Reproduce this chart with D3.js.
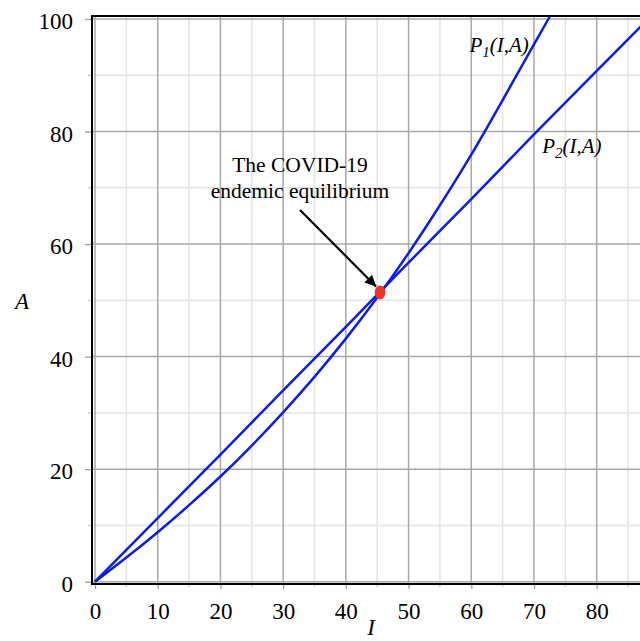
<!DOCTYPE html>
<html>
<head>
<meta charset="utf-8">
<script src="https://cdn.jsdelivr.net/npm/d3@7"></script>
<style>
  html, body { margin: 0; padding: 0; background: #fff; }
  svg { display: block; }
  text { font-family: "Liberation Serif", "Times New Roman", serif; fill: #000; }
</style>
</head>
<body>
<svg id="chart" width="640" height="641"></svg>
<script>
// ---- Data ----
const p1I = [0, 5, 10, 15, 20, 25, 30, 35, 40, 45, 50, 55, 60, 65, 70, 72.5];
const p1A = [0, 4.3, 8.8, 13.6, 18.7, 24.2, 30.1, 36.4, 43.2, 50.5, 58.4, 66.9, 75.9, 85.6, 95.5, 100.4];
const p2I = [0, 10, 20, 30, 40, 50, 60, 70, 80, 90];
const p2A = [0, 11.3, 22.6, 34.0, 45.3, 56.7, 68.0, 79.5, 90.8, 102.0];
const equilibrium = { I: 45.45, A: 51.4 };
const xTicks = [0, 10, 20, 30, 40, 50, 60, 70, 80];
const yTicks = [0, 20, 40, 60, 80, 100];
const xMinor = [5, 15, 25, 35, 45, 55, 65, 75, 85];
const yMinor = [10, 30, 50, 70, 90];
const curveLabels = [
  { main: "P", sub: "1", rest: "(I,A)", I: 59.7, A: 94.2 },
  { main: "P", sub: "2", rest: "(I,A)", I: 71.3, A: 76.1 }
];
const annotationLines = ["The COVID-19", "endemic equilibrium"];

// ---- Scales ----
const svg = d3.select("#chart");
const x = d3.scaleLinear().domain([0, 80]).range([95, 596.7]);
const y = d3.scaleLinear().domain([0, 100]).range([581.7, 19]);
const axisX = x.invert(92);   // left axis position in data units
const axisY = y.invert(584);  // bottom axis position
const topY = y.invert(16);

svg.append("defs").append("clipPath").attr("id", "clip")
  .append("rect").attr("x", x(axisX)).attr("y", y(topY))
  .attr("width", 640 - x(axisX)).attr("height", y(axisY) - y(topY));

// ---- Grid ----
const grid = svg.append("g").attr("clip-path", "url(#clip)");
grid.selectAll(".xminor").data(xMinor).join("line")
  .attr("x1", d => x(d)).attr("x2", d => x(d))
  .attr("y1", y(axisY)).attr("y2", y(topY))
  .attr("stroke", "#e4e4e4").attr("stroke-width", 1.5);
grid.selectAll(".yminor").data(yMinor).join("line")
  .attr("y1", d => y(d)).attr("y2", d => y(d))
  .attr("x1", x(axisX)).attr("x2", 640)
  .attr("stroke", "#e4e4e4").attr("stroke-width", 1.5);
grid.selectAll(".xmajor").data(xTicks).join("line")
  .attr("x1", d => x(d)).attr("x2", d => x(d))
  .attr("y1", y(axisY)).attr("y2", y(topY))
  .attr("stroke", "#a8a8a8").attr("stroke-width", 1.5);
grid.selectAll(".ymajor").data(yTicks).join("line")
  .attr("y1", d => y(d)).attr("y2", d => y(d))
  .attr("x1", x(axisX)).attr("x2", 640)
  .attr("stroke", "#a8a8a8").attr("stroke-width", 1.5);

// ---- Axes (D3 axes, positioned at the frame) ----
const xAxis = svg.append("g").attr("transform", `translate(0,${y(axisY)})`)
  .call(d3.axisBottom(x).tickValues(xTicks).tickSize(5).tickPadding(14).tickFormat(d3.format("d")));
const yAxis = svg.append("g").attr("transform", `translate(${x(axisX)},0)`)
  .call(d3.axisLeft(y).tickValues(yTicks).tickSize(7).tickPadding(12).tickFormat(d3.format("d")));
[xAxis, yAxis].forEach(g => {
  g.select(".domain").remove();
  g.selectAll(".tick line").attr("stroke", "#a0a0a0").attr("stroke-width", 1.3);
  g.selectAll(".tick text").attr("font-size", 23)
    .attr("font-family", "Liberation Serif, Times New Roman, serif").attr("fill", "#000");
});
yAxis.selectAll(".tick text").attr("dy", "0.42em");
// minor ticks
svg.append("g").selectAll("line").data(xMinor.filter(d => x(d) < 640)).join("line")
  .attr("x1", d => x(d)).attr("x2", d => x(d))
  .attr("y1", y(axisY)).attr("y2", y(axisY) + 3)
  .attr("stroke", "#c8c8c8").attr("stroke-width", 1.3);
svg.append("g").selectAll("line").data(yMinor).join("line")
  .attr("y1", d => y(d)).attr("y2", d => y(d))
  .attr("x1", x(axisX) - 4).attr("x2", x(axisX))
  .attr("stroke", "#c8c8c8").attr("stroke-width", 1.3);

// frame lines
svg.append("line").attr("x1", x(axisX)).attr("x2", 640).attr("y1", y(axisY)).attr("y2", y(axisY))
  .attr("stroke", "#000").attr("stroke-width", 2);
svg.append("line").attr("x1", x(axisX)).attr("x2", 640).attr("y1", y(topY)).attr("y2", y(topY))
  .attr("stroke", "#000").attr("stroke-width", 2);
svg.append("line").attr("x1", x(axisX)).attr("x2", x(axisX)).attr("y1", y(topY) - 1).attr("y2", y(axisY) + 1)
  .attr("stroke", "#000").attr("stroke-width", 2);

// ---- Curves ----
const line = d3.line().x(d => x(d[0])).y(d => y(d[1])).curve(d3.curveNatural);
const curves = svg.append("g").attr("clip-path", "url(#clip)");
curves.append("path").datum(p1I.map((v, i) => [v, p1A[i]]))
  .attr("d", line).attr("fill", "none").attr("stroke", "#0a1cf0").attr("stroke-width", 2.5);
curves.append("path").datum(p2I.map((v, i) => [v, p2A[i]]))
  .attr("d", line).attr("fill", "none").attr("stroke", "#0a1cf0").attr("stroke-width", 2.5);

// ---- Curve labels ----
curveLabels.forEach(l => {
  const t = svg.append("text").attr("x", x(l.I)).attr("y", y(l.A))
    .attr("font-size", 21).attr("font-style", "italic");
  t.append("tspan").text(l.main);
  t.append("tspan").attr("dy", 5).attr("font-size", 15).text(l.sub);
  t.append("tspan").attr("dy", -5).text(l.rest);
});

// ---- Annotation ----
svg.append("defs").append("marker").attr("id", "arrow")
  .attr("viewBox", "0 0 10 10").attr("refX", 10).attr("refY", 5)
  .attr("markerWidth", 5).attr("markerHeight", 5).attr("orient", "auto")
  .append("path").attr("d", "M0,0 L10,5 L0,10 z").attr("fill", "#000");
svg.append("line")
  .attr("x1", 300).attr("y1", 210)
  .attr("x2", x(equilibrium.I) - 4).attr("y2", y(equilibrium.A) - 6)
  .attr("stroke", "#000").attr("stroke-width", 2.2).attr("marker-end", "url(#arrow)");
svg.append("text").attr("text-anchor", "middle").attr("font-size", 21.5)
  .selectAll("tspan").data(annotationLines).join("tspan")
  .attr("x", 300).attr("y", (d, i) => 171.5 + i * 26.5).text(d => d);

svg.append("ellipse").attr("cx", x(equilibrium.I)).attr("cy", y(equilibrium.A))
  .attr("rx", 5.3).attr("ry", 7).attr("fill", "#ee3322");

// ---- Axis titles ----
svg.append("text").attr("x", 371).attr("y", 635).attr("text-anchor", "middle")
  .attr("font-size", 23).attr("font-style", "italic").text("I");
svg.append("text").attr("x", 22).attr("y", 309).attr("text-anchor", "middle")
  .attr("font-size", 23).attr("font-style", "italic").text("A");
</script>
</body>
</html>
